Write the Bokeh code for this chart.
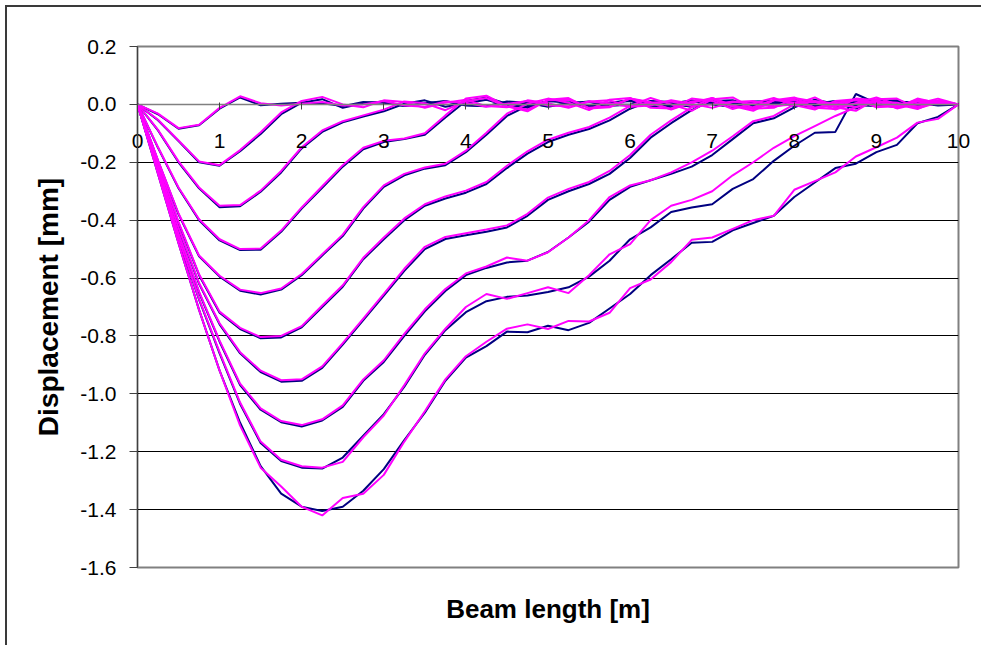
from bokeh.plotting import figure
from bokeh.models import FixedTicker, PrintfTickFormatter, Title, Range1d, LinearAxis
from bokeh.embed import file_html
from bokeh.resources import INLINE

# Positions along the beam [m], every 0.25 m
beam_x = [i * 0.25 for i in range(41)]

# Displacement [mm] for ten load steps: computed (navy) and measured (magenta)
navy_1 = [0, -0.034, -0.084, -0.072, -0.015, 0.024, -0.003,
          0.002, 0.006, 0.004, -0.006, 0.008, 0.006, -0.006, 0.004, 0.010, -0.002, -0.006, 0.008, 0.004, -0.006, 0.004, 0.008, -0.004, 0.000, 0.008, 0.002, -0.006, 0.004, 0.006, -0.004, 0.002, 0.006, -0.002, 0.004, 0.006, -0.004, 0.004, 0.006, 0.000, 0]
mag_1 = [0, -0.032, -0.082, -0.070, -0.012, 0.028, 0.004,
         -0.004, 0.002, 0.008, -0.004, 0.000, 0.012, -0.004, -0.008, 0.010, 0.006, -0.008, 0.002, 0.012, -0.004, -0.006, 0.010, 0.004, -0.008, 0.006, 0.010, -0.006, 0.000, 0.010, 0.002, -0.008, 0.006, 0.008, -0.006, 0.002, 0.010, -0.004, 0.000, 0.006, 0]
navy_2 = [0, -0.055, -0.127, -0.200, -0.212, -0.162, -0.102, -0.034, 0.006,
          0.018, -0.012, 0.004, 0.010, -0.006, 0.004, 0.012, -0.004, -0.006, 0.010, 0.006, -0.008, 0.004, 0.010, -0.004, -0.002, 0.010, 0.002, -0.008, 0.006, 0.010, -0.004, 0.002, 0.008, -0.002, -0.004, 0.008, 0.004, -0.004, 0.004, 0.006, 0]
mag_2 = [0, -0.053, -0.125, -0.197, -0.210, -0.158, -0.096, -0.028, 0.012,
         0.026, 0.000, -0.010, 0.014, 0.008, -0.012, 0.006, 0.016, -0.006, -0.010, 0.014, 0.004, -0.012, 0.010, 0.014, -0.008, -0.004, 0.014, 0.002, -0.012, 0.008, 0.012, -0.006, 0.000, 0.012, 0.002, -0.010, 0.010, 0.006, -0.008, 0.004, 0]
navy_3 = [0, -0.090, -0.200, -0.290, -0.355, -0.352, -0.302, -0.235, -0.152, -0.095, -0.062, -0.042, -0.024,
          0.002, 0.014, -0.008, 0.004, 0.016, -0.004, -0.008, 0.012, 0.006, -0.008, 0.006, 0.012, -0.006, -0.002, 0.012, 0.002, -0.008, 0.006, 0.010, -0.004, 0.002, 0.010, -0.002, -0.004, 0.008, 0.004, -0.002, 0]
mag_3 = [0, -0.088, -0.197, -0.287, -0.350, -0.348, -0.298, -0.230, -0.148, -0.090, -0.058, -0.038, -0.018,
         0.010, 0.004, -0.020, 0.012, 0.022, -0.008, -0.018, 0.014, 0.016, -0.012, -0.006, 0.020, 0.004, -0.016, 0.010, 0.018, -0.008, -0.010, 0.016, 0.006, -0.012, 0.006, 0.014, -0.006, -0.006, 0.012, 0.004, 0]
navy_4 = [0, -0.150, -0.290, -0.400, -0.470, -0.503, -0.502, -0.440, -0.360, -0.288, -0.215, -0.155, -0.130, -0.120, -0.105, -0.045,
          0.012, 0.024, 0.002, -0.012, 0.012, 0.014, -0.008, 0.000, 0.016, 0.002, -0.010, 0.008, 0.012, -0.006, 0.002, 0.012, -0.002, -0.008, 0.008, 0.010, -0.006, 0.004, 0.010, -0.002, 0]
mag_4 = [0, -0.148, -0.287, -0.397, -0.466, -0.500, -0.498, -0.436, -0.356, -0.283, -0.210, -0.150, -0.126, -0.118, -0.100, -0.038,
         0.020, 0.030, -0.006, -0.024, 0.016, 0.022, -0.014, -0.010, 0.020, 0.008, -0.018, 0.006, 0.022, -0.004, -0.016, 0.014, 0.016, -0.012, -0.004, 0.018, 0.004, -0.012, 0.010, 0.012, 0]
navy_5 = [0, -0.195, -0.380, -0.525, -0.595, -0.644, -0.657, -0.640, -0.590, -0.522, -0.455, -0.360, -0.285, -0.245, -0.222, -0.210, -0.165, -0.105, -0.040, -0.005,
          0.010, 0.016, -0.006, 0.006, 0.014, -0.008, 0.002, 0.014, 0.000, -0.008, 0.010, 0.012, -0.006, 0.002, 0.012, -0.002, -0.006, 0.010, 0.006, -0.004, 0]
mag_5 = [0, -0.193, -0.377, -0.522, -0.592, -0.640, -0.652, -0.636, -0.586, -0.518, -0.450, -0.355, -0.280, -0.240, -0.218, -0.205, -0.160, -0.098, -0.032, 0.002,
         0.020, 0.006, -0.020, 0.016, 0.022, -0.012, -0.014, 0.020, 0.012, -0.016, 0.004, 0.022, -0.002, -0.018, 0.012, 0.018, -0.010, -0.006, 0.016, 0.008, 0]
navy_6 = [0, -0.200, -0.410, -0.590, -0.720, -0.776, -0.808, -0.805, -0.770, -0.700, -0.630, -0.535, -0.466, -0.400, -0.350, -0.325, -0.305, -0.275, -0.220, -0.170, -0.130, -0.105, -0.085, -0.055, -0.015,
          0.012, 0.008, -0.008, 0.012, 0.014, -0.006, 0.000, 0.016, 0.004, -0.008, 0.008, 0.014, -0.004, -0.002, 0.010, 0]
mag_6 = [0, -0.198, -0.407, -0.587, -0.716, -0.772, -0.804, -0.800, -0.766, -0.695, -0.625, -0.530, -0.460, -0.394, -0.345, -0.318, -0.298, -0.268, -0.212, -0.162, -0.122, -0.098, -0.078, -0.046, -0.005,
         0.022, 0.000, -0.022, 0.018, 0.024, -0.014, -0.012, 0.022, 0.010, -0.018, 0.004, 0.024, 0.000, -0.016, 0.014, 0]
navy_7 = [0, -0.215, -0.430, -0.620, -0.760, -0.860, -0.925, -0.958, -0.955, -0.910, -0.830, -0.745, -0.661, -0.575, -0.500, -0.465, -0.452, -0.440, -0.425, -0.385, -0.330, -0.300, -0.275, -0.240, -0.185, -0.115, -0.065, -0.020,
          0.014, 0.004, -0.012, 0.010, 0.014, -0.008, 0.002, 0.016, 0.000, -0.010, 0.010, 0.008, 0]
mag_7 = [0, -0.213, -0.427, -0.617, -0.756, -0.856, -0.920, -0.953, -0.950, -0.905, -0.825, -0.740, -0.655, -0.568, -0.492, -0.458, -0.445, -0.432, -0.418, -0.378, -0.322, -0.292, -0.268, -0.230, -0.175, -0.105, -0.055, -0.010,
         0.022, -0.006, -0.022, 0.014, 0.024, -0.012, -0.016, 0.020, 0.014, -0.014, 0.002, 0.020, 0]
navy_8 = [0, -0.225, -0.450, -0.650, -0.820, -0.970, -1.055, -1.098, -1.113, -1.092, -1.045, -0.955, -0.890, -0.800, -0.715, -0.645, -0.590, -0.565, -0.546, -0.540, -0.510, -0.460, -0.405, -0.330, -0.285, -0.262, -0.240, -0.215, -0.175, -0.120, -0.065, -0.048, -0.010,
          0.016, 0.002, -0.014, 0.012, 0.014, -0.006, 0.004, 0]
mag_8 = [0, -0.223, -0.447, -0.647, -0.816, -0.965, -1.050, -1.094, -1.108, -1.088, -1.040, -0.950, -0.884, -0.793, -0.708, -0.638, -0.584, -0.560, -0.529, -0.540, -0.511, -0.460, -0.400, -0.320, -0.280, -0.262, -0.235, -0.200, -0.160, -0.110, -0.058, -0.040, 0.000,
         0.024, -0.010, -0.022, 0.018, 0.020, -0.014, 0.006, 0]
navy_9 = [0, -0.232, -0.465, -0.675, -0.860, -1.035, -1.170, -1.232, -1.255, -1.258, -1.220, -1.145, -1.070, -0.975, -0.865, -0.780, -0.718, -0.680, -0.665, -0.660, -0.648, -0.632, -0.595, -0.540, -0.466, -0.425, -0.372, -0.356, -0.345, -0.292, -0.258, -0.195, -0.143, -0.098, -0.095,
          0.036, 0.004, 0.010, -0.010, 0.012, 0]
mag_9 = [0, -0.230, -0.462, -0.672, -0.856, -1.030, -1.165, -1.228, -1.250, -1.255, -1.235, -1.150, -1.075, -0.970, -0.860, -0.775, -0.700, -0.655, -0.672, -0.652, -0.632, -0.652, -0.590, -0.518, -0.483, -0.400, -0.350, -0.330, -0.300, -0.245, -0.200, -0.150, -0.110, -0.075, -0.040,
         -0.010, 0.016, -0.012, 0.020, 0.004, 0]
navy_10 = [0, -0.240, -0.480, -0.710, -0.920, -1.100, -1.250, -1.345, -1.390, -1.405, -1.390, -1.335, -1.260, -1.160, -1.065, -0.955, -0.875, -0.835, -0.785, -0.787, -0.765, -0.780, -0.755, -0.705, -0.655, -0.590, -0.535, -0.478, -0.475, -0.435, -0.410, -0.385, -0.320, -0.270, -0.220, -0.205, -0.165, -0.140, -0.065, -0.043, 0]
mag_10 = [0, -0.240, -0.480, -0.710, -0.920, -1.110, -1.255, -1.320, -1.390, -1.420, -1.360, -1.345, -1.280, -1.165, -1.060, -0.950, -0.870, -0.820, -0.775, -0.760, -0.776, -0.748, -0.750, -0.720, -0.635, -0.605, -0.545, -0.468, -0.460, -0.430, -0.400, -0.385, -0.295, -0.265, -0.235, -0.180, -0.148, -0.115, -0.063, -0.050, 0]

navy_series = [navy_1, navy_2, navy_3, navy_4, navy_5, navy_6, navy_7, navy_8, navy_9, navy_10]
mag_series = [mag_1, mag_2, mag_3, mag_4, mag_5, mag_6, mag_7, mag_8, mag_9, mag_10]

x_ticks = [0, 1, 2, 3, 4, 5, 6, 7, 8, 9, 10]
y_ticks = [-1.6, -1.4, -1.2, -1.0, -0.8, -0.6, -0.4, -0.2, 0.0, 0.2]
grid_ticks = [-1.4, -1.2, -1.0, -0.8, -0.6, -0.4, -0.2]

FONT = "Liberation Sans"

# chart area edge on the top and left only, drawn as an offset shadow
p = figure(
    width=976, height=640,
    x_range=Range1d(0, 10), y_range=Range1d(-1.6, 0.2),
    output_backend="svg", toolbar_location=None,
    min_border_left=130, min_border_right=25,
    min_border_top=39, min_border_bottom=79,
    outline_line_color="#808080", outline_line_width=2,
    styles={"margin-left": "7px", "margin-top": "7px",
            "box-shadow": "-2px -2px 0 0 #3a3a3a"},
)

# horizontal gridlines only
p.xgrid.visible = False
p.ygrid.ticker = FixedTicker(ticks=grid_ticks)
p.ygrid.grid_line_color = "#000000"
p.ygrid.grid_line_width = 1

# bottom axis only carries the metre numbers, lifted up under the zero line
xa = p.xaxis[0]
xa.ticker = FixedTicker(ticks=x_ticks)
xa.axis_line_color = None
xa.major_tick_line_color = None
xa.minor_tick_line_color = None
xa.major_tick_in = 0
xa.major_tick_out = 0
xa.major_label_standoff = -434
xa.major_label_text_font = FONT
xa.major_label_text_font_size = "21px"
xa.major_label_text_color = "#000000"

# zero line with its tick marks
zero_axis = LinearAxis(
    fixed_location=0, ticker=FixedTicker(ticks=x_ticks),
    axis_line_color="#808080", axis_line_width=1.5,
    major_tick_line_color="#404040", major_tick_in=2, major_tick_out=5,
    minor_tick_line_color=None,
    major_label_text_color=None, major_label_text_font_size="1px",
)
p.add_layout(zero_axis, "below")

ya = p.yaxis[0]
ya.ticker = FixedTicker(ticks=y_ticks)
ya.formatter = PrintfTickFormatter(format="%.1f")
ya.axis_line_color = "#404040"
ya.axis_line_width = 1
ya.major_tick_line_color = "#404040"
ya.major_tick_in = 0
ya.major_tick_out = 8
ya.minor_tick_line_color = None
ya.major_label_standoff = 13
ya.major_label_text_font = FONT
ya.major_label_text_font_size = "21px"
ya.major_label_text_color = "#000000"
ya.axis_label = "Displacement [mm]"
ya.axis_label_text_font = FONT
ya.axis_label_text_font_size = "28px"
ya.axis_label_text_font_style = "bold"
ya.axis_label_text_color = "#000000"
ya.axis_label_standoff = 13

p.add_layout(Title(text="Beam length [m]", align="center", text_font=FONT,
                   text_font_size="26px", text_font_style="bold",
                   text_color="#000000", standoff=48), "below")

for ys in navy_series:
    p.line(beam_x, ys, line_color="#000080", line_width=2)
for ys in mag_series:
    p.line(beam_x, ys, line_color="#FF00FF", line_width=2)

open("out.html", "w").write(file_html(p, INLINE))
